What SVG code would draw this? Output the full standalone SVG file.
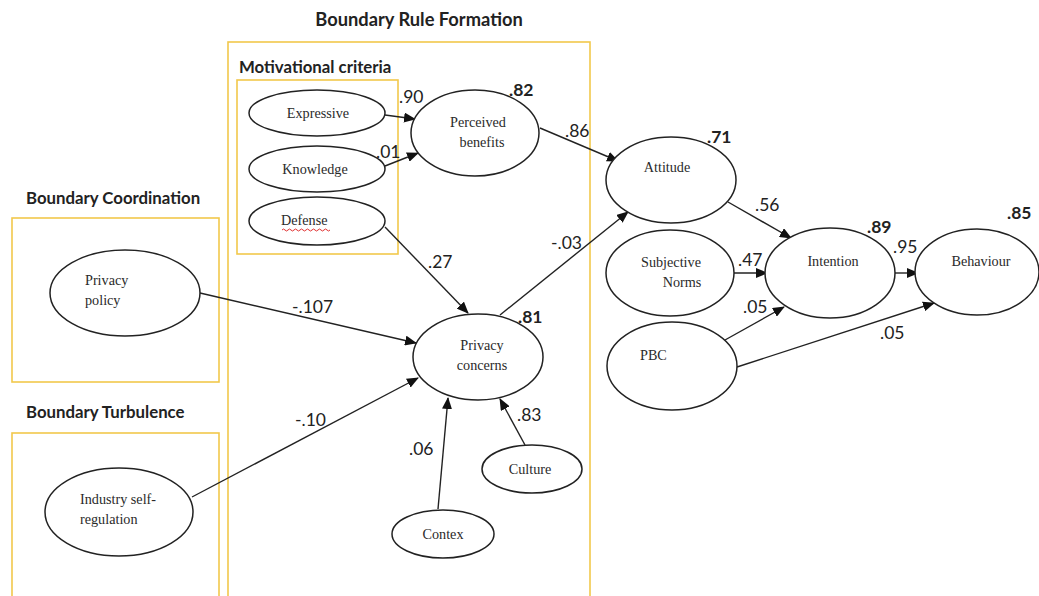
<svg xmlns="http://www.w3.org/2000/svg" width="1039" height="596" viewBox="0 0 1039 596">
<defs>
<marker id="ah" markerUnits="userSpaceOnUse" markerWidth="12" markerHeight="10" refX="11" refY="5" orient="auto">
<path d="M0,0 L12,5 L0,10 Z" fill="#111"/>
</marker>
<style>
.box{fill:none;stroke:#f2c84b;stroke-width:1.6}
.title{font-family:Lato,"Open Sans",sans-serif;font-weight:bold;font-size:16.8px;fill:#222}
.node{fill:#fff;stroke:#222;stroke-width:1.5}
.nt{font-family:"Liberation Serif",serif;font-size:14.2px;fill:#2a2a2a}
.num{font-family:Lato,"Open Sans",sans-serif;font-size:17.5px;fill:#222}
.numb{font-family:Lato,"Open Sans",sans-serif;font-size:17.5px;font-weight:bold;fill:#222}
.edge{fill:none;stroke:#222;stroke-width:1.4;marker-end:url(#ah)}
</style>
</defs>
<rect width="1039" height="596" fill="#fff"/>
<g id="groups">
<rect class="box" x="228" y="42" width="362" height="570"/>
<rect class="box" x="237" y="80" width="161" height="174"/>
<rect class="box" x="12" y="218" width="207" height="164"/>
<rect class="box" x="12" y="433" width="207" height="180"/>
<text class="title" x="419" y="26" text-anchor="middle" style="font-size:18.3px">Boundary Rule Formation</text>
<text class="title" x="239" y="73">Motivational criteria</text>
<text class="title" x="26" y="204">Boundary Coordination</text>
<text class="title" x="26" y="418">Boundary Turbulence</text>
</g>
<g id="connectors">
<line class="edge" x1="385" y1="115" x2="415" y2="119"/>
<line class="edge" x1="385" y1="166" x2="418" y2="153"/>
<line class="edge" x1="385" y1="227" x2="468" y2="313"/>
<line class="edge" x1="540" y1="128" x2="618" y2="161"/>
<line class="edge" x1="500" y1="315" x2="628" y2="212"/>
<line class="edge" x1="200" y1="293" x2="416" y2="343"/>
<line class="edge" x1="192" y1="497" x2="418" y2="378"/>
<line class="edge" x1="438" y1="509" x2="448" y2="398"/>
<line class="edge" x1="525" y1="445" x2="500" y2="399"/>
<line class="edge" x1="728" y1="202" x2="791" y2="238"/>
<line class="edge" x1="734" y1="273" x2="767" y2="273"/>
<line class="edge" x1="725" y1="340" x2="784" y2="307"/>
<line class="edge" x1="894" y1="273" x2="918" y2="273"/>
<line class="edge" x1="737" y1="367" x2="934" y2="303"/>
</g>
<g id="labels">
<text class="num" x="399" y="103">.90</text>
<text class="num" x="376" y="158">.01</text>
<text class="numb" x="509" y="96">.82</text>
<text class="num" x="565" y="137">.86</text>
<text class="numb" x="707" y="143">.71</text>
<text class="num" x="755" y="211">.56</text>
<text class="numb" x="867" y="233">.89</text>
<text class="numb" x="1007" y="219">.85</text>
<text class="num" x="893" y="253">.95</text>
<text class="num" x="738" y="266">.47</text>
<text class="num" x="743" y="313">.05</text>
<text class="num" x="880" y="339">.05</text>
<text class="num" x="428" y="268">.27</text>
<text class="num" x="551" y="249">-.03</text>
<text class="numb" x="518" y="323">.81</text>
<text class="num" x="292" y="313">-.107</text>
<text class="num" x="295" y="426">-.10</text>
<text class="num" x="409" y="455">.06</text>
<text class="num" x="517" y="421">.83</text>
</g>
<g id="expressive"><ellipse class="node" cx="317" cy="113" rx="68" ry="23"/><text class="nt" x="318" y="118" text-anchor="middle">Expressive</text></g>
<g id="knowledge"><ellipse class="node" cx="317" cy="169" rx="68" ry="23"/><text class="nt" x="315" y="174" text-anchor="middle">Knowledge</text></g>
<g id="defense"><ellipse class="node" cx="317" cy="221" rx="68" ry="24"/><text class="nt" x="281" y="225">Defense</text><path d="M282,230 q1.5,-2 3,0 t3,0 t3,0 t3,0 t3,0 t3,0 t3,0 t3,0 t3,0 t3,0 t3,0 t3,0 t3,0 t3,0 t3,0 t3,0" fill="none" stroke="#e03030" stroke-width="1"/></g>
<g id="perceived-benefits"><ellipse class="node" cx="475" cy="133" rx="64" ry="43"/><text class="nt" x="478" y="127" text-anchor="middle">Perceived</text><text class="nt" x="482" y="147" text-anchor="middle">benefits</text></g>
<g id="privacy-concerns"><ellipse class="node" cx="478" cy="357" rx="65" ry="43"/><text class="nt" x="482" y="350" text-anchor="middle">Privacy</text><text class="nt" x="482" y="370" text-anchor="middle">concerns</text></g>
<g id="culture"><ellipse class="node" cx="532" cy="469" rx="50" ry="24"/><text class="nt" x="530" y="474" text-anchor="middle">Culture</text></g>
<g id="contex"><ellipse class="node" cx="443" cy="534" rx="51" ry="24"/><text class="nt" x="443" y="539" text-anchor="middle">Contex</text></g>
<g id="privacy-policy"><ellipse class="node" cx="125" cy="293" rx="75" ry="43"/><text class="nt" x="85" y="285">Privacy</text><text class="nt" x="85" y="305">policy</text></g>
<g id="industry"><ellipse class="node" cx="119" cy="512" rx="74" ry="44"/><text class="nt" x="80" y="504">Industry self-</text><text class="nt" x="80" y="524">regulation</text></g>
<g id="attitude"><ellipse class="node" cx="671" cy="180" rx="65" ry="43"/><text class="nt" x="667" y="172" text-anchor="middle">Attitude</text></g>
<g id="subjective-norms"><ellipse class="node" cx="670" cy="273" rx="64" ry="43"/><text class="nt" x="671" y="267" text-anchor="middle">Subjective</text><text class="nt" x="682" y="287" text-anchor="middle">Norms</text></g>
<g id="intention"><ellipse class="node" cx="830" cy="273" rx="65" ry="45"/><text class="nt" x="833" y="266" text-anchor="middle">Intention</text></g>
<g id="behaviour"><ellipse class="node" cx="977" cy="272" rx="62" ry="43"/><text class="nt" x="981" y="266" text-anchor="middle">Behaviour</text></g>
<g id="pbc"><ellipse class="node" cx="672" cy="366" rx="65" ry="44"/><text class="nt" x="640" y="360">PBC</text></g>
</svg>
